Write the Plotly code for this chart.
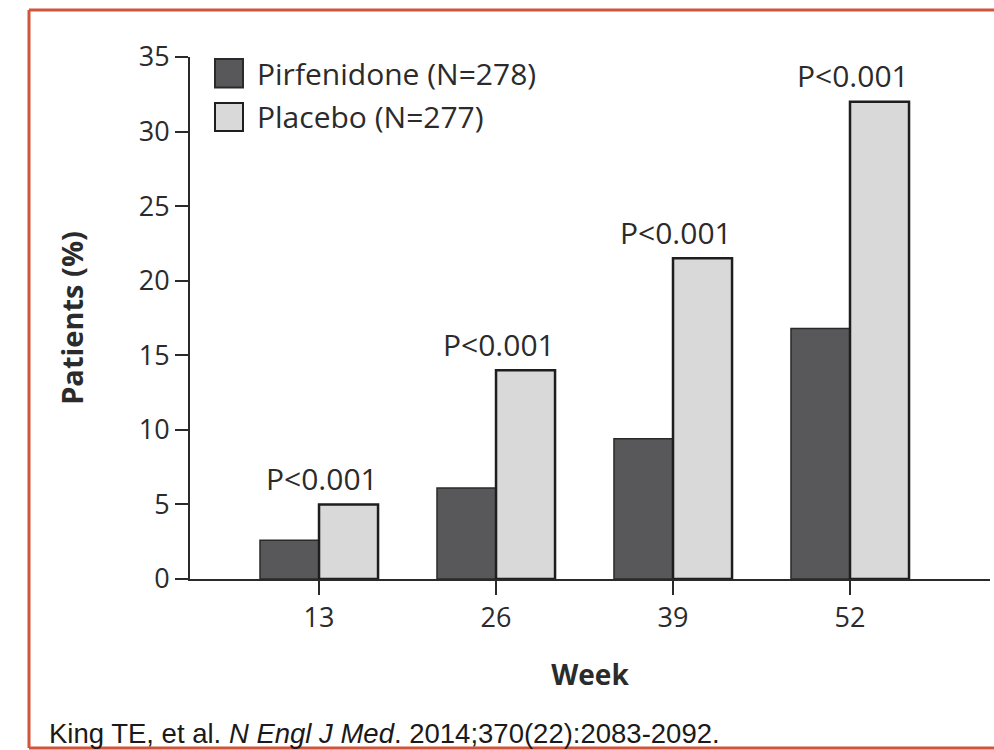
import plotly.graph_objects as go

weeks = ["13", "26", "39", "52"]
pirfenidone = [2.6, 6.1, 9.4, 16.8]
placebo = [5.0, 14.0, 21.5, 32.0]
p_labels = ["P<0.001", "P<0.001", "P<0.001", "P<0.001"]
series_names = ["Pirfenidone (N=278)", "Placebo (N=277)"]
y_ticks = [0, 5, 10, 15, 20, 25, 30, 35]
citation = "King TE, et al. <i>N Engl J Med</i>. 2014;370(22):2083-2092."

FONT = "Open Sans"
TXT = "#2b2b2b"
DARK = "#58585a"
LIGHT = "#d9d9d9"

fig = go.Figure()
fig.add_trace(go.Bar(x=weeks, y=pirfenidone, name=series_names[0],
                     marker=dict(color=DARK, line=dict(color="#2a2a2a", width=1.5)),
                     showlegend=False))
fig.add_trace(go.Bar(x=weeks, y=placebo, name=series_names[1],
                     marker=dict(color=LIGHT, line=dict(color="#1e1e1e", width=2.5)),
                     showlegend=False))

annotations = []
for i, (w, v, t) in enumerate(zip(weeks, placebo, p_labels)):
    annotations.append(dict(x=i, y=v, xref="x", yref="y", text=t, showarrow=False,
                            xanchor="center", yanchor="middle", xshift=3, yshift=26,
                            font=dict(family=FONT, size=30, color=TXT)))

# manual legend (large swatches)
W, H = 800.0, 522.0
def px2paper_x(px):
    return (px - 190) / W
def px2paper_y(py):
    return (579 - py) / H

shapes = []
legend_rows = [(series_names[0], DARK, 59, 87.5, "#2a2a2a"), (series_names[1], LIGHT, 103, 131, "#1e1e1e")]
for name, col, ytop, ybot, lc in legend_rows:
    shapes.append(dict(type="rect", xref="paper", yref="paper",
                       x0=px2paper_x(215), x1=px2paper_x(243),
                       y0=px2paper_y(ybot), y1=px2paper_y(ytop),
                       fillcolor=col, line=dict(color=lc, width=2)))
    annotations.append(dict(x=px2paper_x(255), y=px2paper_y((ytop + ybot) / 2),
                            xref="paper", yref="paper", text=name, showarrow=False,
                            xanchor="left", yanchor="middle",
                            font=dict(family=FONT, size=30, color=TXT)))

# outer frame: left, top and bottom edges (right edge is outside the picture)
FRAME = "#d0553b"
for (xa, ya, xb, yb) in [(29, 10, 29, 748), (29, 10, 994, 10), (29, 748, 994, 748)]:
    shapes.append(dict(type="line", xref="paper", yref="paper",
                       x0=px2paper_x(xa), y0=px2paper_y(ya),
                       x1=px2paper_x(xb), y1=px2paper_y(yb),
                       line=dict(color=FRAME, width=3), layer="below"))

annotations.append(dict(x=px2paper_x(47), y=px2paper_y(733), xref="paper", yref="paper",
                        text=citation, showarrow=False, xanchor="left", yanchor="middle",
                        font=dict(family="Liberation Sans", size=27.5, color="#1a1a1a")))

fig.update_layout(
    width=994, height=750, autosize=False,
    margin=dict(l=190, r=4, t=57, b=171),
    paper_bgcolor="white", plot_bgcolor="white",
    barmode="group", bargap=0.333, bargroupgap=0,
    font=dict(family=FONT, size=27, color=TXT),
    shapes=shapes, annotations=annotations,
    xaxis=dict(type="category", range=[-0.729, 3.791], showline=True, linecolor="#2a2a2a",
               linewidth=2, ticks="outside", ticklen=14, tickwidth=2, tickcolor="#2a2a2a",
               showgrid=False, zeroline=False,
               tickfont=dict(family=FONT, size=27, color=TXT),
               title=dict(text="<b>Week</b>", standoff=31,
                          font=dict(family=FONT, size=28, color=TXT))),
    yaxis=dict(range=[0, 35], tickvals=y_ticks, showline=True, linecolor="#2a2a2a",
               linewidth=2, ticks="outside", ticklen=13, tickwidth=2, tickcolor="#2a2a2a",
               showgrid=False, zeroline=False, ticklabelstandoff=0,
               tickfont=dict(family=FONT, size=27, color=TXT),
               title=dict(text="<b>Patients (%)</b>", standoff=47,
                          font=dict(family=FONT, size=29, color=TXT))),
)

fig.write_html("out.html")
